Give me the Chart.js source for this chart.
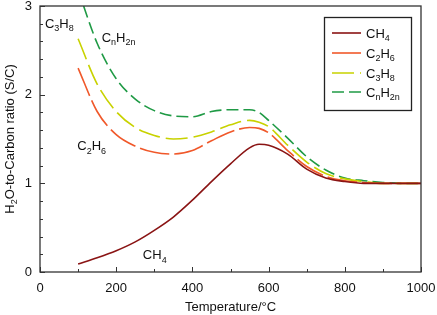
<!DOCTYPE html>
<html><head><meta charset="utf-8">
<script src="https://cdn.jsdelivr.net/npm/chart.js@4/dist/chart.umd.min.js"></script>
<style>html,body{margin:0;padding:0;background:#fff;}</style>
</head><body>
<canvas id="c" width="437" height="315"></canvas>
<script>
// ---- data ----
const temperatures = [100,150,200,250,300,350,400,450,500,550,575,600,650,700,750,800,850,900,950,1000];
const ch4   = [0.09,0.16,0.24,0.34,0.47,0.62,0.81,1.02,1.22,1.40,1.44,1.43,1.33,1.16,1.06,1.02,1.00,1.00,1.00,1.00];
const c2h6  = [2.30,1.81,1.55,1.42,1.35,1.33,1.37,1.48,1.58,1.63,1.62,1.57,1.37,1.19,1.08,1.03,1.01,1.00,1.00,1.00];
const c3h8  = [2.63,2.12,1.81,1.63,1.54,1.50,1.52,1.58,1.66,1.71,1.69,1.64,1.43,1.24,1.11,1.05,1.02,1.00,1.00,1.00];
const cnh2n = [3.18,2.58,2.18,1.95,1.82,1.76,1.75,1.81,1.83,1.83,1.80,1.71,1.51,1.30,1.15,1.06,1.03,1.01,1.00,1.00];
const seriesNames = ['CH_4','C_2H_6','C_3H_8','C_nH_{2n}'];
const xTicks = [0,200,400,600,800,1000];
const yTicks = [0,1,2,3];
const xTitle = 'Temperature/°C';
const yTitle = 'H_2O-to-Carbon ratio (S/C)';
const curveLabels = [
  {text:'C_3H_8',    x:13,  y:2.81},
  {text:'C_nH_{2n}', x:162, y:2.65},
  {text:'C_2H_6',    x:98,  y:1.43},
  {text:'CH_4',      x:270, y:0.20}
];

const FONT = '"Liberation Sans", Arial, Helvetica, sans-serif';
const colors = ['#8a1414','#f0582a','#c8d200','#1f9a45'];
const dashes = [[], [30,5], [22,6], [12,5]];
const seriesData = [ch4, c2h6, c3h8, cnh2n];

function parseFormula(str){
  const parts=[]; let i=0;
  while(i<str.length){
    if(str[i]==='_'){
      i++; let s;
      if(str[i]==='{'){ const j=str.indexOf('}',i); s=str.slice(i+1,j); i=j+1; }
      else { s=str[i]; i++; }
      parts.push({t:s,sub:true});
    } else {
      let j=i; while(j<str.length && str[j]!=='_') j++;
      parts.push({t:str.slice(i,j),sub:false}); i=j;
    }
  }
  return parts;
}
function drawFormula(ctx, str, x, yc, size, align){
  const parts=parseFormula(str);
  const sub=Math.round(size*0.72);
  let w=0;
  parts.forEach(p=>{ ctx.font=(p.sub?sub:size)+'px '+FONT; p.w=ctx.measureText(p.t).width; w+=p.w; });
  let cx = align==='center' ? x-w/2 : (align==='right' ? x-w : x);
  const base = yc + size*0.36;
  ctx.textAlign='left'; ctx.textBaseline='alphabetic';
  parts.forEach(p=>{
    ctx.font=(p.sub?sub:size)+'px '+FONT;
    ctx.fillText(p.t, cx, p.sub ? base+size*0.28 : base);
    cx+=p.w;
  });
}

const decor = {
  id:'decor',
  afterDatasetsDraw(chart){
    const ctx=chart.ctx, a=chart.chartArea, xs=chart.scales.x, ys=chart.scales.y;
    ctx.save();
    ctx.strokeStyle='#333'; ctx.lineWidth=1.3; ctx.setLineDash([]);
    ctx.strokeRect(a.left, a.top, a.right-a.left, a.bottom-a.top);
    ctx.lineWidth=1;
    for(let v=0; v<=1000; v+=100){
      const px=Math.round(xs.getPixelForValue(v))+0.5, len=(v%200===0)?5:3;
      ctx.beginPath(); ctx.moveTo(px,a.bottom); ctx.lineTo(px,a.bottom-len); ctx.stroke();
    }
    for(let k=0; k<=15; k++){
      const v=k*0.2, py=Math.round(ys.getPixelForValue(v))+0.5, len=(k%5===0)?5:3;
      ctx.beginPath(); ctx.moveTo(a.left,py); ctx.lineTo(a.left+len,py); ctx.stroke();
    }
    ctx.fillStyle='#111';
    curveLabels.forEach(l=>{
      drawFormula(ctx, l.text, xs.getPixelForValue(l.x), ys.getPixelForValue(l.y), 13, 'left');
    });
    const lx=324, ly=17, lw=87, lh=93;
    ctx.fillStyle='#fff'; ctx.fillRect(lx,ly,lw,lh);
    ctx.strokeStyle='#222'; ctx.lineWidth=1.3; ctx.strokeRect(lx+0.5,ly+0.5,lw,lh);
    const rows=[33,53,73,92];
    seriesNames.forEach((n,i)=>{
      ctx.strokeStyle=colors[i]; ctx.lineWidth=1.6; ctx.setLineDash(dashes[i]);
      ctx.beginPath(); ctx.moveTo(332,rows[i]); ctx.lineTo(361,rows[i]); ctx.stroke();
      ctx.setLineDash([]);
      ctx.fillStyle='#111';
      drawFormula(ctx, n, 366, rows[i], 13, 'left');
    });
    ctx.save();
    ctx.translate(9, (a.top+a.bottom)/2);
    ctx.rotate(-Math.PI/2);
    drawFormula(ctx, yTitle, 0, 0, 13, 'center');
    ctx.restore();
    ctx.restore();
  }
};

new Chart(document.getElementById('c'), {
  type:'line',
  data:{
    datasets: seriesNames.map((n,i)=>({
      label:n,
      data: temperatures.map((t,j)=>({x:t, y:seriesData[i][j]})),
      borderColor:colors[i],
      borderWidth:1.6,
      borderDash:dashes[i],
      pointRadius:0,
      fill:false,
      cubicInterpolationMode:'monotone'
    }))
  },
  options:{
    responsive:false, animation:false, devicePixelRatio:1,
    layout:{autoPadding:false, padding:{top:6,right:16,left:0,bottom:0}},
    plugins:{legend:{display:false}, tooltip:{enabled:false}, title:{display:false}},
    scales:{
      x:{type:'linear', min:0, max:1000,
        afterBuildTicks:s=>{ s.ticks=xTicks.map(v=>({value:v})); },
        afterFit:s=>{ s.height=43; s.paddingLeft=0; s.paddingRight=0; },
        grid:{drawOnChartArea:false, drawTicks:false}, border:{display:false},
        ticks:{padding:9, color:'#111', font:{family:FONT,size:13}, maxRotation:0, callback:v=>String(v)},
        title:{display:true, text:xTitle, color:'#111', font:{family:FONT,size:13}, padding:{top:2,bottom:0}}
      },
      y:{type:'linear', min:0, max:3,
        afterBuildTicks:s=>{ s.ticks=yTicks.map(v=>({value:v})); },
        afterFit:s=>{ s.width=40; s.paddingTop=0; s.paddingBottom=0; },
        grid:{drawOnChartArea:false, drawTicks:false}, border:{display:false},
        ticks:{padding:8, color:'#111', font:{family:FONT,size:13}, callback:v=>String(v)}
      }
    }
  },
  plugins:[decor]
});
</script>
</body></html>
